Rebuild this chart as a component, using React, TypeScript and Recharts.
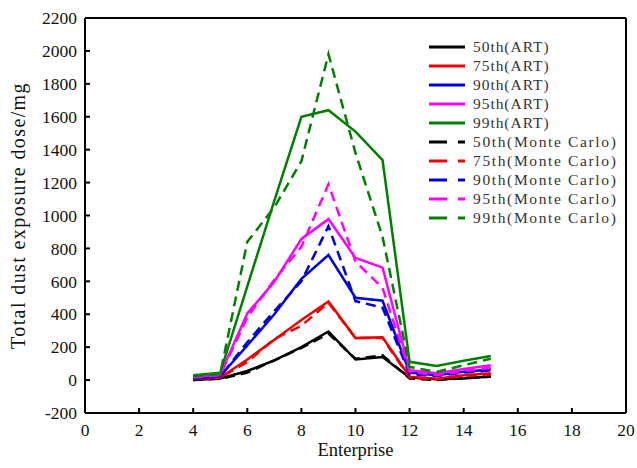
import React from 'react';
import { LineChart, Line, XAxis, YAxis, Legend, ReferenceLine } from 'recharts';

const enterprises = [4, 5, 6, 7, 8, 9, 10, 11, 12, 13, 14, 15];

const p50ART = [0, 10, 55, 120, 200, 295, 125, 140, 15, 5, 10, 22];
const p75ART = [5, 15, 125, 245, 365, 478, 255, 260, 20, 8, 30, 42];
const p90ART = [10, 25, 210, 400, 615, 760, 500, 482, 45, 30, 50, 65];
const p95ART = [18, 35, 405, 598, 858, 978, 742, 683, 60, 42, 68, 90];
const p99ART = [30, 45, 570, 1090, 1600, 1640, 1510, 1337, 111, 85, 117, 146];

const p50MC = [0, 8, 45, 120, 195, 282, 130, 150, 10, 0, 12, 20];
const p75MC = [5, 15, 110, 250, 330, 470, 255, 255, 15, 5, 25, 35];
const p90MC = [8, 22, 230, 420, 600, 935, 480, 440, 35, 25, 45, 60];
const p95MC = [15, 30, 380, 610, 810, 1190, 720, 560, 50, 30, 55, 75];
const p99MC = [25, 38, 840, 1050, 1330, 1980, 1380, 870, 80, 50, 90, 130];

const xTicks = [0, 2, 4, 6, 8, 10, 12, 14, 16, 18, 20];
const yTicks = [-200, 0, 200, 400, 600, 800, 1000, 1200, 1400, 1600, 1800, 2000, 2200];

const series = [
  { key: 'p50ART', name: '50th(ART)', color: '#000000', dashed: false, values: p50ART },
  { key: 'p75ART', name: '75th(ART)', color: '#ee0000', dashed: false, values: p75ART },
  { key: 'p90ART', name: '90th(ART)', color: '#0000dd', dashed: false, values: p90ART },
  { key: 'p95ART', name: '95th(ART)', color: '#ff00ff', dashed: false, values: p95ART },
  { key: 'p99ART', name: '99th(ART)', color: '#008000', dashed: false, values: p99ART },
  { key: 'p50MC', name: '50th(Monte Carlo)', color: '#000000', dashed: true, values: p50MC },
  { key: 'p75MC', name: '75th(Monte Carlo)', color: '#ee0000', dashed: true, values: p75MC },
  { key: 'p90MC', name: '90th(Monte Carlo)', color: '#0000dd', dashed: true, values: p90MC },
  { key: 'p95MC', name: '95th(Monte Carlo)', color: '#ff00ff', dashed: true, values: p95MC },
  { key: 'p99MC', name: '99th(Monte Carlo)', color: '#008000', dashed: true, values: p99MC },
];

const data = enterprises.map((e, i) => {
  const row: any = { x: e };
  series.forEach((s) => {
    row[s.key] = s.values[i];
  });
  return row;
});

const serif = '"Liberation Serif", "Times New Roman", serif';

const LegendContent = () => (
  <svg width={205} height={196} style={{ display: 'block' }}>
    {series.map((s, i) => {
      const y = 9 + i * 19;
      return (
        <g key={s.key}>
          <line
            x1={4}
            x2={40}
            y1={y}
            y2={y}
            stroke={s.color}
            strokeWidth={3}
            strokeDasharray={s.dashed ? '18 11' : undefined}
          />
          <text
            x={48}
            y={y + 5}
            fontFamily={serif}
            fontSize={15.5}
            fill="#333"
            textLength={s.name.length * 8.4}
            lengthAdjust="spacing"
          >
            {s.name}
          </text>
        </g>
      );
    })}
  </svg>
);

export default function App() {
  const tickStyle = { fontFamily: serif, fontSize: 17.5, fill: '#111' };
  return (
    <div style={{ position: 'absolute', left: 0, top: 0, width: 637, height: 468, background: '#fff' }}>
      <LineChart width={637} height={468} data={data} margin={{ top: 18, right: 11, bottom: 0, left: 0 }}>
        <XAxis
          dataKey="x"
          type="number"
          domain={[0, 20]}
          ticks={xTicks}
          interval={0}
          height={55}
          stroke="#000"
          axisLine={{ stroke: '#000', strokeWidth: 2 }}
          tickLine={{ stroke: '#000', strokeWidth: 2 }}
          tickSize={-5}
          tickMargin={16}
          tick={tickStyle}
          label={{ value: 'Enterprise', position: 'insideBottom', offset: 12, style: { fontFamily: serif, fontSize: 18.5, fill: '#111' } }}
        />
        <YAxis
          type="number"
          domain={[-200, 2200]}
          ticks={yTicks}
          interval={0}
          width={85}
          stroke="#000"
          axisLine={{ stroke: '#000', strokeWidth: 2 }}
          tickLine={{ stroke: '#000', strokeWidth: 2 }}
          tickSize={-5}
          tickMargin={13}
          tick={tickStyle}
          label={{
            value: 'Total dust exposure dose/mg',
            angle: -90,
            position: 'insideLeft',
            offset: 18,
            style: { textAnchor: 'middle', fontFamily: serif, fontSize: 20, letterSpacing: 1.4, fill: '#111' },
          }}
        />
        <ReferenceLine y={2200} stroke="#000" strokeWidth={2} />
        <ReferenceLine x={20} stroke="#000" strokeWidth={2} />
        {series.map((s) => (
          <Line
            key={s.key}
            type="linear"
            dataKey={s.key}
            name={s.name}
            stroke={s.color}
            strokeWidth={2.5}
            strokeDasharray={s.dashed ? '10 6' : undefined}
            dot={false}
            activeDot={false}
            isAnimationActive={false}
          />
        ))}
        <Legend
          layout="vertical"
          align="center"
          verticalAlign="middle"
          content={LegendContent}
          wrapperStyle={{ left: 425, top: 38, width: 205, height: 196 }}
        />
      </LineChart>
    </div>
  );
}
